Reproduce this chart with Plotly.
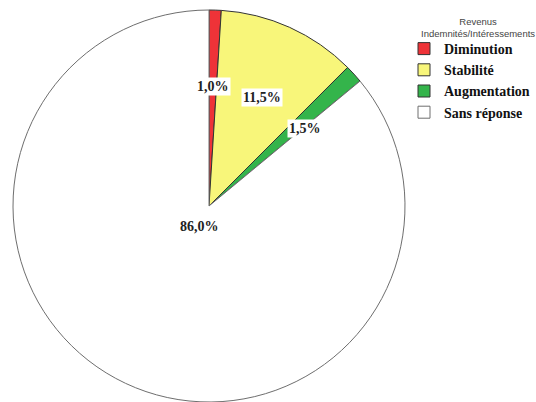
import math
import plotly.graph_objects as go

categories = ["Diminution", "Stabilité", "Augmentation", "Sans réponse"]
values = [1.0, 11.5, 1.5, 86.0]
labels_text = ["1,0%", "11,5%", "1,5%", "86,0%"]
colors = ["#EE3338", "#F8F67A", "#34B44B", "#FFFFFF"]
line_colors = ["#333333", "#333333", "#333333", "#6E6E6E"]
legend_title_lines = ["Revenus", "Indemnités/Intéressements"]

W, H = 536, 402
dom_x = [13 / W, 405 / W]
dom_y = [0.0, 392 / H]

fig = go.Figure(go.Pie(
    labels=categories,
    values=values,
    sort=False,
    direction="clockwise",
    rotation=0,
    textinfo="none",
    hoverinfo="label+percent",
    marker=dict(colors=colors, line=dict(color=line_colors, width=1)),
    domain=dict(x=dom_x, y=dom_y),
))

# label positions derived from slice mid-angles
cx = (dom_x[0] + dom_x[1]) / 2 * W
cy = (dom_y[0] + dom_y[1]) / 2 * H
R = (dom_x[1] - dom_x[0]) * W / 2
total = sum(values)
cum = 0
annotations = []
for v, t in zip(values, labels_text):
    mid = (cum + v / 2) / total * 2 * math.pi
    cum += v
    rf = 0.66 if v / total < 0.5 else 0.117
    px = cx + rf * R * math.sin(mid)
    py = cy + rf * R * math.cos(mid)
    annotations.append(dict(
        x=px / W, y=py / H, xref="paper", yref="paper",
        text="<b>" + t + "</b>", showarrow=False,
        font=dict(family="Liberation Serif", size=14, color="#222222"),
        bgcolor="#FFFFFF", borderpad=1,
    ))

# legend title
annotations.append(dict(
    x=478 / W, y=1 - 14 / H, xref="paper", yref="paper",
    xanchor="center", yanchor="top", align="center",
    text="<br>".join(legend_title_lines), showarrow=False,
    font=dict(family="Liberation Sans", size=9.5, color="#444444"),
))

fig.update_layout(
    width=W, height=H,
    margin=dict(l=0, r=0, t=0, b=0, autoexpand=False),
    paper_bgcolor="#FFFFFF",
    annotations=annotations,
    showlegend=True,
    legend=dict(
        x=404 / W, y=1 - 33 / H, xanchor="left", yanchor="top",
        font=dict(family="Liberation Serif", size=14, color="#111111", weight="bold"),
        itemwidth=30, tracegroupgap=0, bgcolor="rgba(0,0,0,0)",
    ),
)

fig.write_html("out.html", config={"displayModeBar": False},
               post_script="document.body.style.margin='0px';")
